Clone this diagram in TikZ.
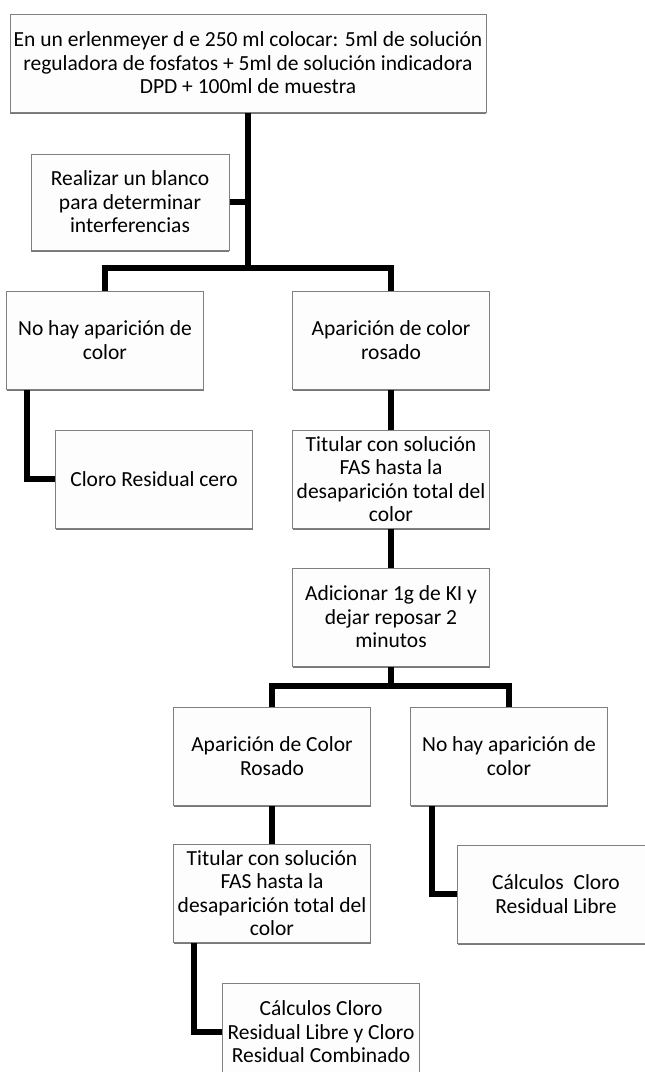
\documentclass[tikz,border=0pt]{standalone}
\usepackage{fontspec}
\setmainfont{Carlito}
\usetikzlibrary{shadows,calc}
\definecolor{boxline}{RGB}{128,128,128}
\definecolor{boxfill}{RGB}{253,253,253}
\definecolor{boxshade}{RGB}{120,120,120}
\begin{document}
\begin{tikzpicture}[x=1pt,y=-1pt,
  box/.style={draw=boxline, line width=1pt, fill=boxfill,
    minimum width=197pt, minimum height=98pt, inner sep=0pt,
    align=center, font=\fontsize{21.5}{23.5}\selectfont,
    drop shadow={shadow xshift=0pt, shadow yshift=-2pt, fill=boxshade, opacity=1}},
  link/.style={line width=5.5pt, black}]
\useasboundingbox (0,0) rectangle (645,1072);
\fill[white] (0,0) rectangle (645,1072);
\clip (0,0) rectangle (645,1072);

% boxes of the procedure
\node[box, minimum width=476pt] (top) at (248,63)
  {En un erlenmeyer d e 250 ml colocar: 5ml de solución\\reguladora de fosfatos + 5ml de solución indicadora\\DPD + 100ml de muestra};
\node[box, minimum width=198pt, minimum height=96pt] (blank) at (130,202)
  {Realizar un blanco\\para determinar\\interferencias};
\node[box] (noA) at (105,340) {No hay aparición de\\color};
\node[box] (apA) at (391,340) {Aparición de color\\rosado};
\node[box] (cero) at (154,479) {Cloro Residual cero};
\node[box] (tit1) at (391,479) {Titular con solución\\FAS hasta la\\desaparición total del\\color};
\node[box] (adic) at (391,617) {Adicionar 1g de KI y\\dejar reposar 2\\minutos};
\node[box] (apB) at (272,756) {Aparición de Color\\Rosado};
\node[box] (noB) at (509,756) {No hay aparición de\\color};
\node[box] (tit2) at (272,893) {Titular con solución\\FAS hasta la\\desaparición total del\\color};
\node[box] (calc1) at (556,894) {Cálculos\ \ Cloro\\Residual Libre};
\node[box] (calc2) at (321,1032) {Cálculos Cloro\\Residual Libre y Cloro\\Residual Combinado};

% connectors
\coordinate (j1) at (248,268);
\coordinate (j2) at (391,686);
\draw[link] (top.south) -- (j1);
\draw[link] (blank.east) -- (blank.east -| j1);
\draw[link] (noA.north) |- (j1) -| (apA.north);
\draw[link] ($(noA.south west)+(21,0)$) |- (cero.west);
\draw[link] (apA.south) -- (tit1.north);
\draw[link] (tit1.south) -- (adic.north);
\draw[link] (adic.south) -- (j2);
\draw[link] (apB.north) |- (j2) -| (noB.north);
\draw[link] (apB.south) -- (tit2.north);
\draw[link] ($(noB.south west)+(22,0)$) |- (calc1.west);
\draw[link] ($(tit2.south west)+(21,0)$) |- (calc2.west);
\end{tikzpicture}
\end{document}
